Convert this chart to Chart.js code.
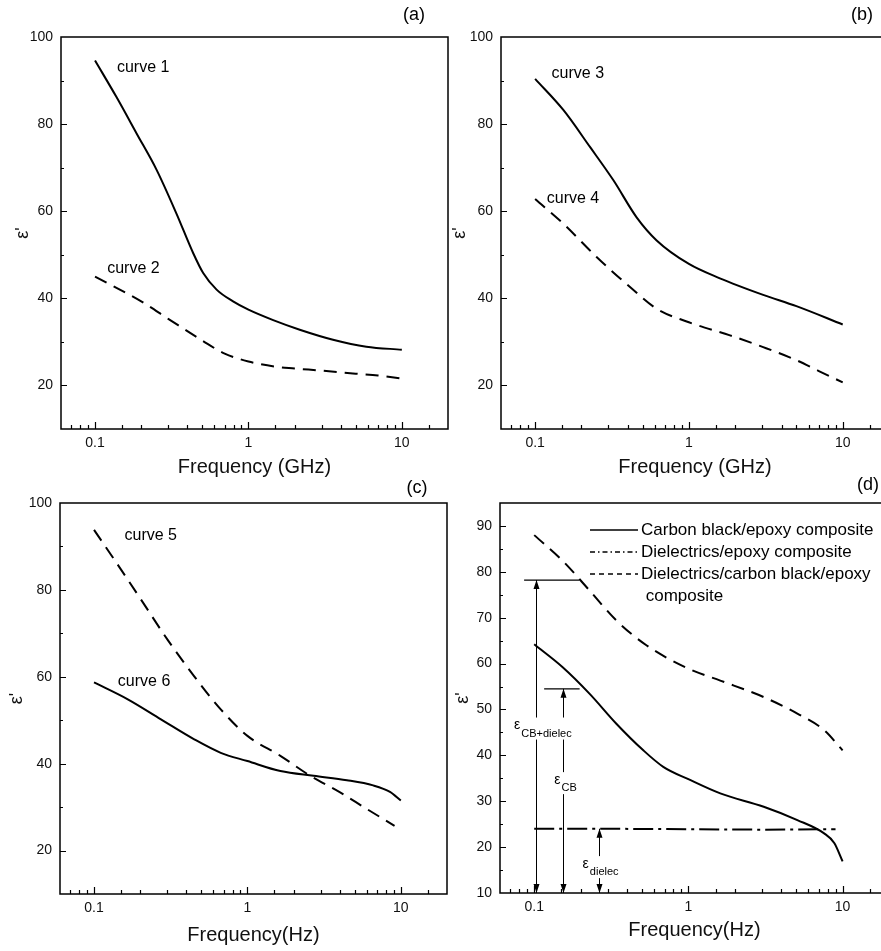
<!DOCTYPE html>
<html>
<head>
<meta charset="utf-8">
<script src="https://cdn.jsdelivr.net/npm/chart.js@4.4.1/dist/chart.umd.min.js"></script>
<style>
  html, body { margin: 0; padding: 0; background: #fff; overflow: hidden; }
  body { width: 881px; height: 951px; position: relative; }
  .panel { position: absolute; }
</style>
</head>
<body>
<div class="panel" style="left:0;top:0;width:460px;height:480px"><canvas id="chartA"></canvas></div>
<div class="panel" style="left:440px;top:0;width:455px;height:480px"><canvas id="chartB"></canvas></div>
<div class="panel" style="left:0;top:475px;width:460px;height:476px"><canvas id="chartC"></canvas></div>
<div class="panel" style="left:440px;top:475px;width:455px;height:476px"><canvas id="chartD"></canvas></div>
<script>
// ---- data ----
// x axis (all panels, log)
const xMin = 0.06;
const xMax = 20;

// (a)
const freqCurve1 = [0.1, 0.138, 0.187, 0.252, 0.34, 0.436, 0.507, 0.62, 0.794, 1, 1.45, 2.16, 3.56, 5.87, 10];
const epsCurve1  = [94.6, 86.2, 77.8, 69.5, 59.4, 50.4, 45.8, 42.0, 39.3, 37.4, 35.0, 32.8, 30.5, 28.9, 28.2];
const freqCurve2 = [0.1, 0.2, 0.3, 0.5, 0.7, 1, 1.5, 2, 3, 5, 7, 10];
const epsCurve2  = [45.0, 39.3, 35.3, 30.3, 27.3, 25.5, 24.3, 23.9, 23.4, 22.7, 22.3, 21.6];

// (b)
const freqCurve3 = [0.1, 0.153, 0.228, 0.323, 0.457, 0.617, 1, 1.59, 3.04, 5.0, 10];
const epsCurve3  = [90.4, 83.2, 74.7, 67.1, 58.6, 53.3, 47.9, 44.6, 40.8, 38.2, 34.0];
const freqCurve4 = [0.1, 0.153, 0.251, 0.414, 0.617, 1, 1.85, 3.04, 5.0, 7.0, 10];
const epsCurve4  = [62.8, 57.1, 49.5, 42.6, 37.6, 34.5, 31.5, 28.8, 25.8, 23.3, 20.7];

// (c)
const freqCurve5 = [0.1, 0.136, 0.203, 0.302, 0.45, 0.67, 1, 1.64, 2.57, 4.02, 5.98, 9.1];
const epsCurve5  = [93.8, 86.9, 77.7, 68.5, 60.1, 52.5, 46.4, 41.8, 37.2, 33.4, 29.6, 25.7];
const freqCurve6 = [0.1, 0.166, 0.273, 0.45, 0.67, 1, 1.64, 2.7, 4.45, 6.6, 8.5, 10];
const epsCurve6  = [58.7, 54.8, 50.2, 45.6, 42.5, 40.6, 38.3, 37.2, 36.2, 35.0, 33.5, 31.5];

// (d)
const freqCB  = [0.1, 0.153, 0.229, 0.341, 0.51, 0.687, 1, 1.61, 3.08, 5.09, 7.59, 8.83, 10];
const epsCB   = [64.2, 59.2, 53.4, 46.9, 41.1, 37.5, 34.8, 31.7, 28.8, 25.9, 23.0, 20.9, 16.9];
const freqDie = [0.1, 0.3, 1, 3, 9];
const epsDie  = [24.0, 24.0, 23.9, 23.8, 23.9];
const freqMix = [0.1, 0.153, 0.229, 0.341, 0.534, 1, 1.61, 3.08, 5.09, 7.59, 10];
const epsMix  = [88.0, 82.4, 75.9, 69.4, 64.0, 58.9, 56.3, 52.7, 49.1, 45.5, 41.1];

// text labels placed in data units
const curveLabelsA = [{ text: 'curve 1', x: 0.139, y: 92.9 }, { text: 'curve 2', x: 0.12, y: 46.9 }];
const curveLabelsB = [{ text: 'curve 3', x: 0.128, y: 91.7 }, { text: 'curve 4', x: 0.119, y: 63.0 }];
const curveLabelsC = [{ text: 'curve 5', x: 0.158, y: 92.4 }, { text: 'curve 6', x: 0.143, y: 58.9 }];

// (d) marks: reference levels and the three ε arrows
const refLevels = [{ x0: 0.086, x1: 0.197, y: 78.2 }, { x0: 0.116, x1: 0.197, y: 54.5 }];
const arrowX    = [0.102, 0.153, 0.263];
const arrowTop  = [78.2, 54.5, 24.0];
const epsTexts  = [
  { sub: 'CB+dielec', x: 0.074, y: 46.5 },
  { sub: 'CB', x: 0.135, y: 34.6 },
  { sub: 'dielec', x: 0.206, y: 16.3 }
];

const toXY = (xs, ys) => xs.map((x, i) => ({ x: x, y: ys[i] }));

Chart.defaults.font.family = '"Liberation Sans", Arial, sans-serif';
Chart.defaults.color = '#111';

const FONT = '"Liberation Sans", Arial, sans-serif';

function isDecade(v) {
  const l = Math.log10(v);
  return Math.abs(l - Math.round(l)) < 1e-9;
}

// inward tick marks + box frame
const frameTicks = {
  id: 'frameTicks',
  afterDatasetsDraw(chart, args, opts) {
    const { ctx, chartArea: a } = chart;
    const xs = chart.scales.x, ys = chart.scales.y;
    ctx.save();
    ctx.strokeStyle = '#000';
    ctx.lineWidth = 1.2;
    ctx.beginPath();
    xs.ticks.forEach(t => {
      const px = Math.round(xs.getPixelForValue(t.value)) + 0.5;
      if (px <= a.left + 1 || px >= a.right - 1) return;
      const len = isDecade(t.value) ? 7 : 4;
      ctx.moveTo(px, a.bottom);
      ctx.lineTo(px, a.bottom - len);
    });
    ys.ticks.forEach(t => {
      const py = Math.round(ys.getPixelForValue(t.value)) + 0.5;
      if (py <= a.top + 1 || py >= a.bottom - 1) return;
      const len = t.value % opts.major === 0 ? 6 : 3;
      ctx.moveTo(a.left, py);
      ctx.lineTo(a.left + len, py);
    });
    ctx.stroke();
    ctx.lineWidth = 1.5;
    ctx.strokeRect(a.left, a.top, a.right - a.left, a.bottom - a.top);
    // panel tag
    ctx.fillStyle = '#000';
    ctx.font = '18px ' + FONT;
    ctx.textAlign = 'center';
    ctx.textBaseline = 'middle';
    ctx.fillText(opts.tag, a.right + opts.tagDx, a.top + opts.tagDy);
    // curve labels
    ctx.font = '16px ' + FONT;
    ctx.textAlign = 'left';
    (opts.labels || []).forEach(l => {
      ctx.fillText(l.text, xs.getPixelForValue(l.x), ys.getPixelForValue(l.y));
    });
    ctx.restore();
  }
};

// legend + ε annotations for panel (d)
const panelD = {
  id: 'panelD',
  afterDatasetsDraw(chart) {
    const { ctx, chartArea: a } = chart;
    const xs = chart.scales.x, ys = chart.scales.y;
    ctx.save();
    ctx.strokeStyle = '#000';
    ctx.fillStyle = '#000';
    ctx.lineWidth = 1.2;
    // reference levels
    refLevels.forEach(r => {
      const py = ys.getPixelForValue(r.y);
      ctx.beginPath();
      ctx.moveTo(xs.getPixelForValue(r.x0), py);
      ctx.lineTo(xs.getPixelForValue(r.x1), py);
      ctx.stroke();
    });
    // double arrows
    arrowX.forEach((xv, i) => {
      const px = Math.round(xs.getPixelForValue(xv)) + 0.5;
      const yb = ys.getPixelForValue(ys.min), yt = ys.getPixelForValue(arrowTop[i]);
      ctx.lineWidth = 1;
      ctx.beginPath();
      ctx.moveTo(px, yb);
      ctx.lineTo(px, yt);
      ctx.stroke();
      ctx.beginPath();
      ctx.moveTo(px, yt); ctx.lineTo(px - 3, yt + 9); ctx.lineTo(px + 3, yt + 9); ctx.closePath();
      ctx.moveTo(px, yb); ctx.lineTo(px - 3, yb - 9); ctx.lineTo(px + 3, yb - 9); ctx.closePath();
      ctx.fill();
    });
    // ε labels
    ctx.textBaseline = 'middle';
    ctx.textAlign = 'left';
    epsTexts.forEach(t => {
      const px = xs.getPixelForValue(t.x), py = ys.getPixelForValue(t.y);
      ctx.font = '14px ' + FONT;
      const w1 = ctx.measureText('ε').width;
      ctx.font = '11px ' + FONT;
      const w2 = ctx.measureText(t.sub).width;
      ctx.fillStyle = '#fff';
      ctx.fillRect(px - 1, py - 8, w1 + w2 + 3, 22);
      ctx.fillStyle = '#000';
      ctx.font = '14px ' + FONT;
      ctx.fillText('ε', px, py);
      ctx.font = '11px ' + FONT;
      ctx.fillText(t.sub, px + w1 + 1, py + 8);
    });
    // legend
    ctx.font = '17px ' + FONT;
    let row = 0;
    chart.data.datasets.forEach(ds => {
      if (!ds.label) return;
      const y = a.top + 27 + row * 22;
      ctx.lineWidth = 1.5;
      ctx.setLineDash(ds.legendDash || []);
      ctx.beginPath();
      ctx.moveTo(a.left + 90, y);
      ctx.lineTo(a.left + 138, y);
      ctx.stroke();
      ctx.setLineDash([]);
      ds.label.split('\n').forEach((line, j) => {
        ctx.fillText(line, a.left + 141, y + j * 22);
      });
      row += ds.label.split('\n').length;
    });
    ctx.restore();
  }
};

function solid(data, label) {
  return { label: label, data: data, borderColor: '#000', borderWidth: 2, pointRadius: 0, cubicInterpolationMode: 'monotone', legendDash: [] };
}
function dashed(data, label) {
  return { label: label, data: data, borderColor: '#000', borderWidth: 2, borderDash: [13, 8], pointRadius: 0, cubicInterpolationMode: 'monotone', legendDash: [5, 4] };
}

function makeChart(id, p) {
  return new Chart(document.getElementById(id), {
    type: 'line',
    data: { datasets: p.datasets },
    options: {
      responsive: true,
      maintainAspectRatio: false,
      animation: false,
      layout: { padding: p.padding },
      plugins: { legend: { display: false }, tooltip: { enabled: false }, frameTicks: p.frame },
      scales: {
        x: {
          type: 'logarithmic', min: xMin, max: xMax,
          afterFit: s => { s.height = p.xHeight; },
          grid: { display: false, drawTicks: false },
          border: { display: false },
          ticks: { autoSkip: false, maxRotation: 0, padding: 6, font: { size: 14 }, callback: v => isDecade(v) ? String(v) : '' },
          title: { display: true, text: p.xTitle, font: { size: 20 }, padding: { top: 0, bottom: p.xTitlePad } }
        },
        y: {
          type: 'linear', min: p.yMin, max: p.yMax,
          afterFit: s => { s.width = p.yWidth; },
          grid: { display: false, drawTicks: false },
          border: { display: false },
          ticks: { stepSize: p.yStep, padding: 8, font: { size: 14 }, callback: v => v % p.frame.major === 0 ? String(v) : '' },
          title: { display: true, text: "ε'", font: { size: 18 }, padding: { top: p.yTitlePad, bottom: 0 } }
        }
      }
    },
    plugins: p.plugins
  });
}

makeChart('chartA', {
  datasets: [solid(toXY(freqCurve1, epsCurve1)), dashed(toXY(freqCurve2, epsCurve2))],
  padding: { left: 0, top: 37, right: 12, bottom: 0 },
  xHeight: 51, yWidth: 61, xTitle: 'Frequency (GHz)', xTitlePad: 1, yTitlePad: 12,
  yMin: 10, yMax: 100, yStep: 10,
  frame: { major: 20, tag: '(a)', tagDx: -34, tagDy: -22, labels: curveLabelsA },
  plugins: [frameTicks]
});

makeChart('chartB', {
  datasets: [solid(toXY(freqCurve3, epsCurve3)), dashed(toXY(freqCurve4, epsCurve4))],
  padding: { left: 0, top: 37, right: 6, bottom: 0 },
  xHeight: 51, yWidth: 61, xTitle: 'Frequency (GHz)', xTitlePad: 1, yTitlePad: 9,
  yMin: 10, yMax: 100, yStep: 10,
  frame: { major: 20, tag: '(b)', tagDx: -27, tagDy: -22, labels: curveLabelsB },
  plugins: [frameTicks]
});

makeChart('chartC', {
  datasets: [dashed(toXY(freqCurve5, epsCurve5)), solid(toXY(freqCurve6, epsCurve6))],
  padding: { left: 0, top: 28, right: 13, bottom: 0 },
  xHeight: 57, yWidth: 60, xTitle: 'Frequency(Hz)', xTitlePad: 4, yTitlePad: 6,
  yMin: 10, yMax: 100, yStep: 10,
  frame: { major: 20, tag: '(c)', tagDx: -30, tagDy: -15, labels: curveLabelsC },
  plugins: [frameTicks]
});

const dashDot = { label: 'Dielectrics/epoxy composite', data: toXY(freqDie, epsDie), borderColor: '#000', borderWidth: 2,
  borderDash: [20, 5, 3, 5], pointRadius: 0, legendDash: [5, 3, 1.5, 3] };

makeChart('chartD', {
  datasets: [
    solid(toXY(freqCB, epsCB), 'Carbon black/epoxy composite'),
    dashDot,
    dashed(toXY(freqMix, epsMix), 'Dielectrics/carbon black/epoxy\n composite')
  ],
  padding: { left: 0, top: 28, right: 6, bottom: 0 },
  xHeight: 58, yWidth: 60, xTitle: 'Frequency(Hz)', xTitlePad: 9, yTitlePad: 12,
  yMin: 10, yMax: 95, yStep: 5,
  frame: { major: 10, tag: '(d)', tagDx: -21, tagDy: -18 },
  plugins: [frameTicks, panelD]
});
</script>
</body>
</html>
